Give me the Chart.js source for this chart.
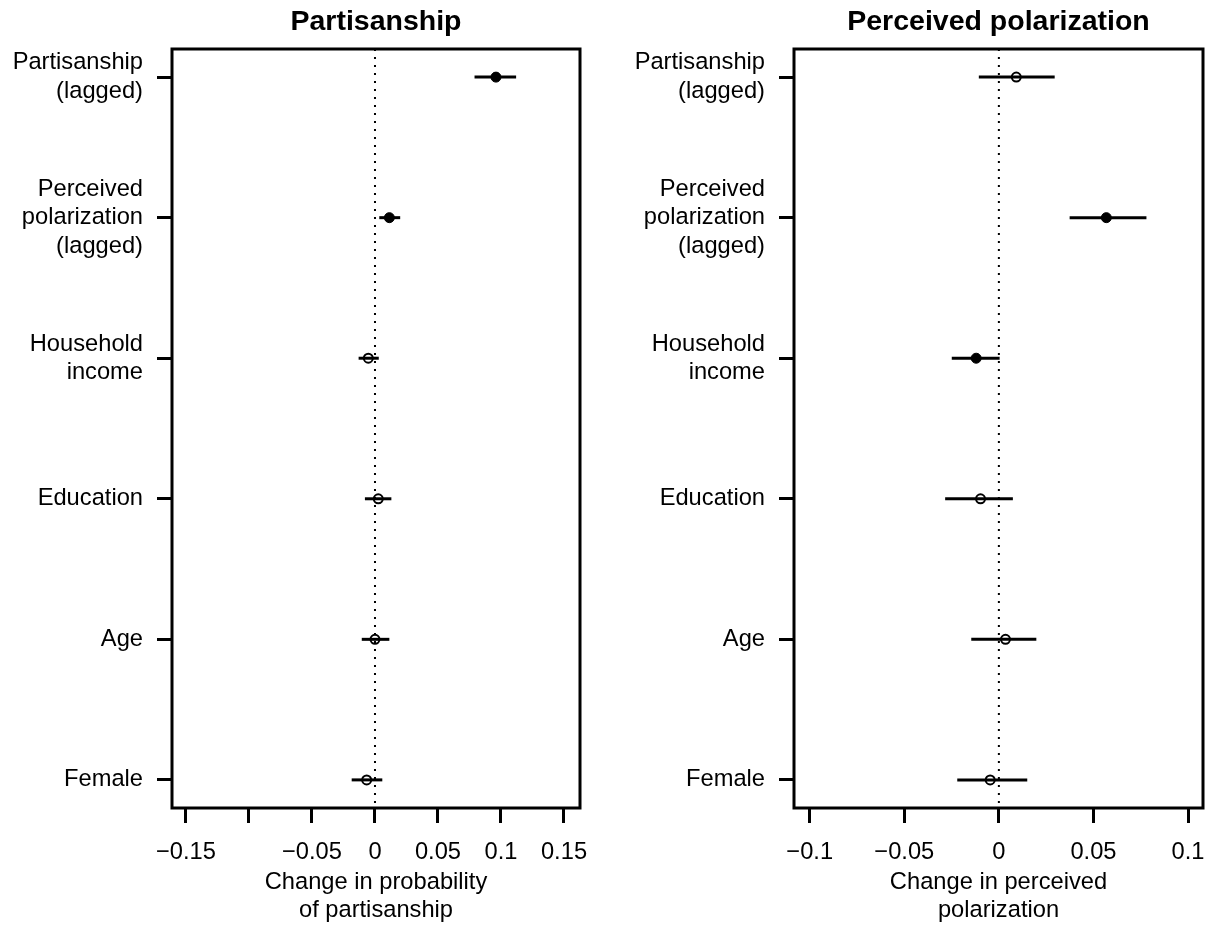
<!DOCTYPE html>
<html>
<head>
<meta charset="utf-8">
<script src="https://cdn.jsdelivr.net/npm/chart.js@4/dist/chart.umd.min.js"></script>
<style>
  body { margin: 0; background: #fff; overflow: hidden; }
  #wrap { position: relative; width: 1217px; height: 926px; overflow: hidden; }
  canvas { position: absolute; top: 0; }
  #leftChart { left: 0; }
  #rightChart { left: 590px; }
</style>
</head>
<body>
<div id="wrap">
  <canvas id="leftChart" width="615" height="926"></canvas>
  <canvas id="rightChart" width="640" height="926"></canvas>
</div>
<script>
// Data

const categories = [
    ["Partisanship", "(lagged)"],
    ["Perceived", "polarization", "(lagged)"],
    ["Household", "income"],
    "Education",
    "Age",
    "Female"
];
const rows = [1, 2, 3, 4, 5, 6];

// Partisanship panel
const partisanEst = [0.096, 0.0114, -0.0053, 0.0026, 0.0000, -0.0066];
const partisanLo = [0.079, 0.0034, -0.013, -0.008, -0.0105, -0.0185];
const partisanHi = [0.112, 0.020, 0.003, 0.013, 0.0114, 0.0058];
const partisanSig = [true, true, false, false, false, false];
const partisanTicks = [-0.15, -0.1, -0.05, 0, 0.05, 0.1, 0.15];
const partisanTickLabels = ["\u22120.15", "", "\u22120.05", "0", "0.05", "0.1", "0.15"];

// Perceived polarization panel
const polarEst = [0.0092, 0.0568, -0.012, -0.0097, 0.0035, -0.0046];
const polarLo = [-0.0106, 0.0374, -0.0249, -0.0284, -0.0146, -0.022];
const polarHi = [0.0295, 0.078, 0.0004, 0.0074, 0.0198, 0.015];
const polarSig = [false, true, true, false, false, false];
const polarTicks = [-0.1, -0.05, 0, 0.05, 0.1];
const polarTickLabels = ["\u22120.1", "\u22120.05", "0", "0.05", "0.1"];

const FONT = "'Liberation Sans', Arial, Helvetica, sans-serif";
const Y_MIN = 0.8, Y_MAX = 6.2;


// box + title drawn around the plot region, like R's box() and main=

const panelFrame = {
    id: "panelFrame",
    afterDraw(chart, args, opts) {
        const ctx = chart.ctx;
        const a = chart.chartArea;
        ctx.save();
        ctx.strokeStyle = "#000";
        ctx.lineWidth = 3;
        ctx.strokeRect(a.left, a.top, a.right - a.left, a.bottom - a.top);
        ctx.fillStyle = "#000";
        ctx.font = "bold 28.5px " + FONT;
        ctx.textAlign = "center";
        ctx.textBaseline = "middle";
        ctx.fillText(opts.text, (a.left + a.right) / 2, 22);
        ctx.restore();
    }
};


function makePanel(id, title, est, lo, hi, sig, xMin, xMax, xTicks, xLabels, xTitle, yWidth, padRight) {

    let datasets = [];

    // dotted zero line
    datasets.push({
        data: [{ x: 0, y: Y_MIN }, { x: 0, y: Y_MAX }],
        showLine: true,
        borderColor: "#000",
        borderWidth: 2,
        borderDash: [2, 6],
        pointRadius: 0
    });

    // confidence intervals
    rows.forEach(function (r, i) {
        datasets.push({
            data: [{ x: lo[i], y: r }, { x: hi[i], y: r }],
            showLine: true,
            borderColor: "#000",
            borderWidth: 3,
            borderCapStyle: "butt",
            pointRadius: 0
        });
    });

    // point estimates: filled if significant, open otherwise
    datasets.push({
        data: rows.map(function (r, i) { return { x: est[i], y: r }; }),
        pointRadius: sig.map(function (s) { return s ? 5 : 4.5; }),
        pointBorderWidth: sig.map(function (s) { return s ? 1 : 2; }),
        pointBackgroundColor: sig.map(function (s) { return s ? "#000" : "#fff"; }),
        pointBorderColor: "#000"
    });

    new Chart(document.getElementById(id), {

        type: "scatter",

        data: { datasets: datasets },

        options: {
            responsive: false,
            animation: false,
            layout: { autoPadding: false, padding: { top: 49, right: padRight, bottom: 0, left: 0 } },
            plugins: {
                legend: { display: false },
                tooltip: { enabled: false },
                panelFrame: { text: title }
            },
            scales: {
                x: {
                    type: "linear",
                    min: xMin,
                    max: xMax,
                    afterBuildTicks: function (s) { s.ticks = xTicks.map(function (v) { return { value: v }; }); },
                    afterFit: function (s) { s.height = 118; },
                    border: { display: false },
                    grid: { drawOnChartArea: false, drawTicks: true, tickLength: 15, tickWidth: 3, tickColor: "#000" },
                    ticks: {
                        autoSkip: false,
                        maxRotation: 0,
                        padding: 15,
                        color: "#000",
                        font: { family: FONT, size: 23.7 },
                        callback: function (v, i) { return xLabels[i]; }
                    },
                    title: {
                        display: true,
                        text: xTitle,
                        color: "#000",
                        font: { family: FONT, size: 23.7, lineHeight: 1.18 },
                        padding: { top: 0, bottom: 2 }
                    }
                },
                y: {
                    type: "linear",
                    reverse: true,
                    min: Y_MIN,
                    max: Y_MAX,
                    afterBuildTicks: function (s) { s.ticks = rows.map(function (v) { return { value: v }; }); },
                    afterFit: function (s) { s.width = yWidth; },
                    border: { display: false },
                    grid: { drawOnChartArea: false, drawTicks: true, tickLength: 15, tickWidth: 3, tickColor: "#000" },
                    ticks: {
                        autoSkip: false,
                        padding: 14,
                        color: "#000",
                        font: { family: FONT, size: 23.7, lineHeight: 1.2 },
                        callback: function (v, i) { return categories[i]; }
                    }
                }
            }
        },

        plugins: [panelFrame]

    });
}


// Partisanship

makePanel("leftChart", "Partisanship", partisanEst, partisanLo, partisanHi, partisanSig,
    -0.1611, 0.1627, partisanTicks, partisanTickLabels,
    ["Change in probability", "of partisanship"], 172, 35);


// Perceived polarization

makePanel("rightChart", "Perceived polarization", polarEst, polarLo, polarHi, polarSig,
    -0.1083, 0.1079, polarTicks, polarTickLabels,
    ["Change in perceived", "polarization"], 204, 27);
</script>
</body>
</html>
